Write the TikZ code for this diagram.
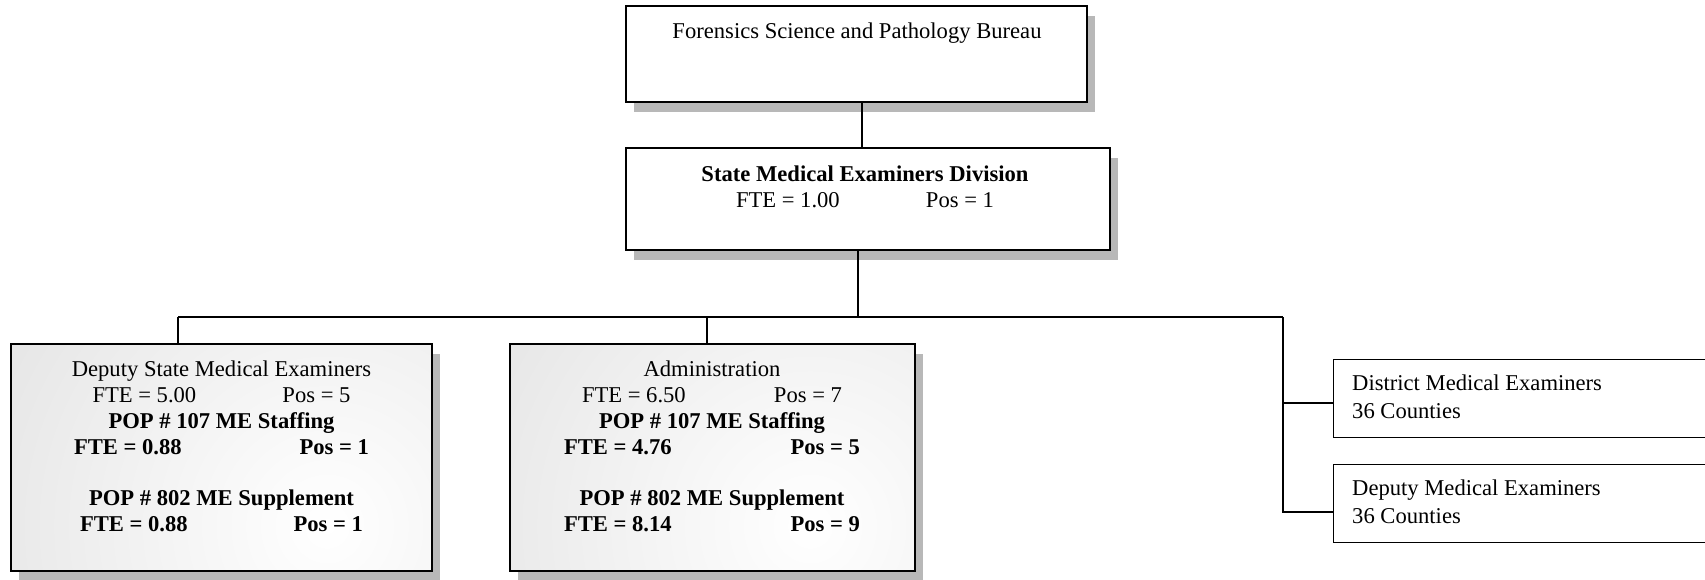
\documentclass[tikz,border=0pt]{standalone}
\usepackage{fontspec}
\setmainfont{Liberation Serif}
\usetikzlibrary{calc,shadows}
\tikzset{
  orgbox/.style={draw, line width=1.6pt, rectangle, inner sep=0pt, fill=white,
    drop shadow={shadow xshift=8pt, shadow yshift=-10pt, fill=black!28, opacity=1}},
  shadedbox/.style={orgbox,
    path picture={\shade[inner color=white, outer color=black!17]
      ($(path picture bounding box.south east)+(-105,-45)$) circle (640);}},
  plainbox/.style={draw, line width=1.4pt, rectangle, inner sep=0pt, fill=white},
  conn/.style={line width=1.6pt},
  txt/.style={inner sep=0pt, font=\fontsize{22.6}{25.8}\selectfont, align=center},
  ltxt/.style={inner sep=0pt, font=\fontsize{22.6}{28}\selectfont, align=left},
}
\newcommand{\twocol}[3]{\makebox[#1pt]{#2\hfill #3}}
\begin{document}
\begin{tikzpicture}[x=1pt,y=-1pt]
\useasboundingbox (0,0) rectangle (1705,579);
\fill[white] (0,0) rectangle (1705,579);

% boxes
\node[orgbox, minimum width=461, minimum height=96] (fsp) at (856.5,54) {};
\node[orgbox, minimum width=484, minimum height=102] (smd) at (868,199) {};
\node[shadedbox, minimum width=421, minimum height=227] (dsme) at (221.5,457.5) {};
\node[shadedbox, minimum width=405, minimum height=227] (adm) at (712.5,457.5) {};
\node[plainbox, minimum width=372, minimum height=78, anchor=north west] (dist) at (1333,359) {};
\node[plainbox, minimum width=372, minimum height=78, anchor=north west] (dme) at (1333,464) {};

% texts
\node[txt, anchor=base] (fspt) at (857,38) {Forensics Science and Pathology Bureau};
\node[txt, anchor=north] (smdt) at (865,163) {\strut\textbf{State Medical Examiners Division}\\
  \twocol{258}{FTE = 1.00}{Pos = 1}};
\node[txt, anchor=north] (dsmet) at (221.5,358.5) {\strut Deputy State Medical Examiners\\
  \twocol{258}{FTE = 5.00}{Pos = 5}\\
  \textbf{POP \# 107 ME Staffing}\\
  \textbf{\twocol{295}{FTE = 0.88}{Pos = 1}}\\[25.8pt]
  \textbf{POP \# 802 ME Supplement}\\
  \textbf{\twocol{283}{FTE = 0.88}{Pos = 1}}};
\node[txt, anchor=north] (admt) at (712,358.5) {\strut Administration\\
  \twocol{260}{FTE = 6.50}{Pos = 7}\\
  \textbf{POP \# 107 ME Staffing}\\
  \textbf{\twocol{296}{FTE = 4.76}{Pos = 5}}\\[25.8pt]
  \textbf{POP \# 802 ME Supplement}\\
  \textbf{\twocol{296}{FTE = 8.14}{Pos = 9}}};
\node[ltxt, anchor=north west] (distt) at (1352,371) {\strut District Medical Examiners\\36 Counties};
\node[ltxt, anchor=north west] (dmet) at (1352,475.5) {\strut Deputy Medical Examiners\\36 Counties};

% connectors
\coordinate (c1) at ($(fsp.south)+(5.5,0)$);
\draw[conn] (c1) -- (c1 |- smd.north);
\coordinate (busL) at (178,317);
\coordinate (busM) at (707,317);
\coordinate (busJ) at (858,317);
\coordinate (busR) at (1283,317);
\draw[conn] (busJ |- smd.south) -- (busJ);
\draw[conn] (busL) -- (busR);
\draw[conn] (busL) -- (busL |- dsme.north);
\draw[conn] (busM) -- (busM |- adm.north);
\coordinate (s1) at ($(dist.west)+(0,4)$);
\coordinate (s2) at ($(dme.west)+(0,8)$);
\draw[conn] (busR) |- (s2);
\draw[conn] (s1 -| busR) -- (s1);
\end{tikzpicture}
\end{document}
